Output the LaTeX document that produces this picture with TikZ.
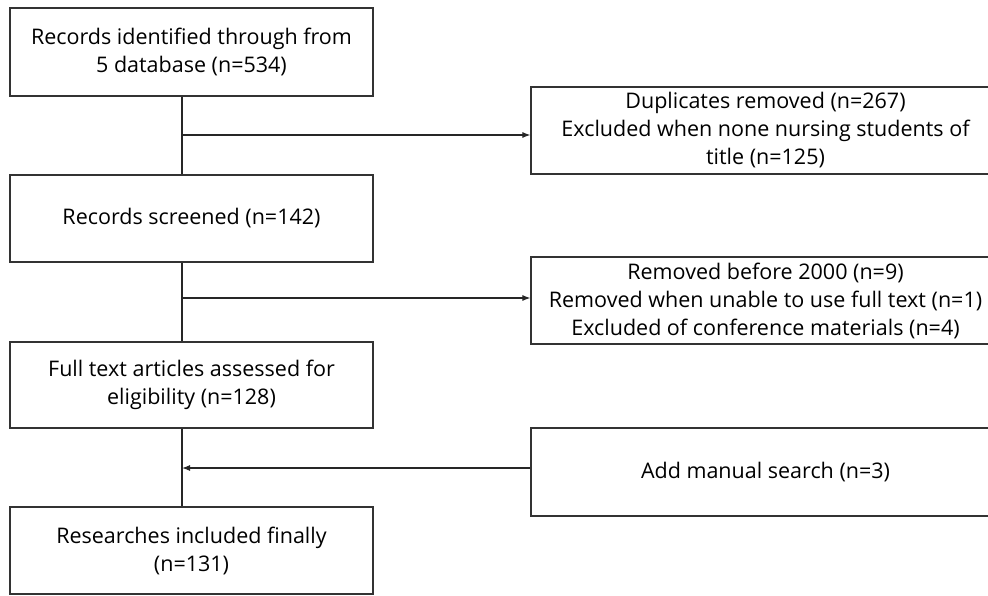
\documentclass[tikz,border=0pt]{standalone}
\usepackage{fontspec}
\setmainfont{Open Sans}
\usetikzlibrary{arrows.meta}
\begin{document}
\begin{tikzpicture}[x=1pt,y=-1pt,
  box/.style={draw=black!80,line width=1.2pt,minimum width=363pt,align=center,inner sep=0pt,
    font=\fontsize{21.5}{28}\selectfont},
  rbox/.style={box,minimum width=469pt},
  conn/.style={draw=black!85,line width=1.1pt},
  arr/.style={conn,-{Latex[length=8pt,width=6pt]}}]
\useasboundingbox (0,0) rectangle (988,595);
\begin{scope}
\clip (0,0) rectangle (988,595);
\node[box,minimum height=88pt] (b1) at (191.5,52) {Records identified through from\\5 database (n=534)};
\node[box,minimum height=87pt] (b2) at (191.5,218.5) {Records screened (n=142)};
\node[box,minimum height=86pt] (b3) at (191.5,385) {Full text articles assessed for\\eligibility (n=128)};
\node[box,minimum height=87pt] (b4) at (191.5,550.5) {Researches included finally\\(n=131)};
\node[rbox,minimum height=87pt] (r1) at (765.5,130.5) {Duplicates removed (n=267)\\Excluded when none nursing students of\\title (n=125)};
\node[rbox,minimum height=87pt] (r2) at (765.5,300.5) {Removed before 2000 (n=9)\\Removed when unable to use full text (n=1)\\Excluded of conference materials (n=4)};
\node[rbox,minimum height=88pt] (r3) at (765.5,472) {Add manual search (n=3)};
\end{scope}
\coordinate (j1) at (182,135);
\coordinate (j2) at (182,298);
\coordinate (j3) at (182,468);
\draw[conn] (b1.south -| j1) -- (b2.north -| j1);
\draw[conn] (b2.south -| j2) -- (b3.north -| j2);
\draw[conn] (b3.south -| j3) -- (b4.north -| j3);
\draw[arr] (j1) -- (j1 -| r1.west);
\draw[arr] (j2) -- (j2 -| r2.west);
\draw[arr] (j3 -| r3.west) -- (j3);
\end{tikzpicture}
\end{document}
